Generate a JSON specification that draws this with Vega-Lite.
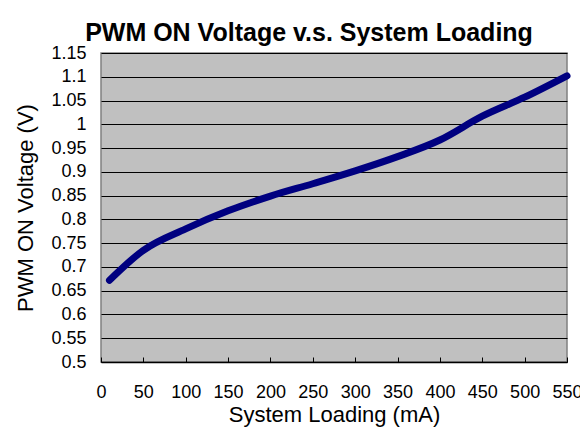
{
  "$schema": "https://vega.github.io/schema/vega-lite/v6.json",
  "width": 466,
  "height": 309,
  "autosize": {"type": "none"},
  "padding": {"left": 101, "top": 53, "right": 13, "bottom": 69},
  "background": "white",
  "title": {
    "text": "PWM ON Voltage v.s. System Loading",
    "font": "Liberation Sans",
    "fontSize": 25,
    "fontWeight": "bold",
    "color": "black",
    "anchor": "middle",
    "baseline": "alphabetic",
    "offset": 13,
    "dx": -25,
    "dy": 35
  },
  "data": {
    "values": [
      {"load": 10, "voltage": 0.672},
      {"load": 50, "voltage": 0.735},
      {"load": 100, "voltage": 0.780},
      {"load": 150, "voltage": 0.818},
      {"load": 200, "voltage": 0.849},
      {"load": 250, "voltage": 0.875},
      {"load": 300, "voltage": 0.902},
      {"load": 350, "voltage": 0.932},
      {"load": 400, "voltage": 0.967},
      {"load": 450, "voltage": 1.017},
      {"load": 500, "voltage": 1.057},
      {"load": 550, "voltage": 1.102}
    ]
  },
  "mark": {
    "type": "line",
    "color": "#000080",
    "strokeWidth": 7,
    "strokeCap": "round",
    "strokeJoin": "round",
    "interpolate": "monotone",
    "clip": false
  },
  "encoding": {
    "x": {
      "field": "load",
      "type": "quantitative",
      "scale": {"domain": [0, 550], "nice": false, "zero": false},
      "axis": {
        "title": "System Loading (mA)",
        "values": [0, 50, 100, 150, 200, 250, 300, 350, 400, 450, 500, 550],
        "grid": false,
        "domainColor": "black",
        "domainWidth": 1.5,
        "tickColor": "black",
        "tickSize": -5,
        "tickWidth": 1,
        "labelFont": "Liberation Sans",
        "labelFontSize": 18,
        "labelColor": "black",
        "labelPadding": 26,
        "labelFlush": false,
        "labelOverlap": false,
        "titleFont": "Liberation Sans",
        "titleFontSize": 22,
        "titleFontWeight": "normal",
        "titleColor": "black",
        "titlePadding": 3
      }
    },
    "y": {
      "field": "voltage",
      "type": "quantitative",
      "scale": {"domain": [0.5, 1.15], "nice": false, "zero": false},
      "axis": {
        "title": "PWM ON Voltage (V)",
        "values": [0.5, 0.55, 0.6, 0.65, 0.7, 0.75, 0.8, 0.85, 0.9, 0.95, 1.0, 1.05, 1.1, 1.15],
        "format": "~g",
        "grid": true,
        "gridColor": "black",
        "gridWidth": 1,
        "gridOpacity": 1,
        "domain": false,
        "ticks": false,
        "labelFont": "Liberation Sans",
        "labelFontSize": 18,
        "labelColor": "black",
        "labelPadding": 15,
        "labelFlush": false,
        "labelOverlap": false,
        "titleFont": "Liberation Sans",
        "titleFontSize": 22,
        "titleFontWeight": "normal",
        "titleColor": "black",
        "titlePadding": 13
      }
    }
  },
  "config": {
    "view": {"fill": "#C0C0C0", "stroke": "#808080", "strokeWidth": 1.5}
  }
}
